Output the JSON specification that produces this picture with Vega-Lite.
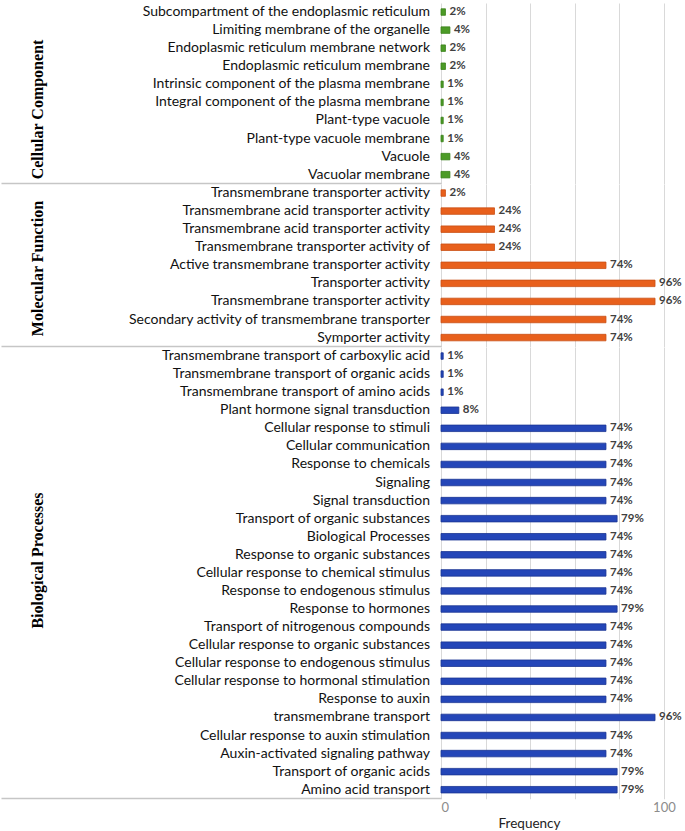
{
  "$schema": "https://vega.github.io/schema/vega-lite/v6.json",
  "padding": {"left": 0, "top": 3, "right": 0, "bottom": 0},
  "spacing": 0,
  "bounds": "flush",
  "data": {"values": [
    {"g": "CC", "term": "Subcompartment of the endoplasmic reticulum", "v": 2},
    {"g": "CC", "term": "Limiting membrane of the organelle", "v": 4},
    {"g": "CC", "term": "Endoplasmic reticulum membrane network", "v": 2},
    {"g": "CC", "term": "Endoplasmic reticulum membrane", "v": 2},
    {"g": "CC", "term": "Intrinsic component of the plasma membrane", "v": 1},
    {"g": "CC", "term": "Integral component of the plasma membrane", "v": 1},
    {"g": "CC", "term": "Plant-type vacuole", "v": 1},
    {"g": "CC", "term": "Plant-type vacuole membrane", "v": 1},
    {"g": "CC", "term": "Vacuole", "v": 4},
    {"g": "CC", "term": "Vacuolar membrane", "v": 4},
    {"g": "MF", "term": "Transmembrane transporter activity", "v": 2},
    {"g": "MF", "term": "Transmembrane acid transporter activity", "v": 24},
    {"g": "MF", "term": "Transmembrane acid transporter activity ", "v": 24},
    {"g": "MF", "term": "Transmembrane transporter activity of", "v": 24},
    {"g": "MF", "term": "Active transmembrane transporter activity", "v": 74},
    {"g": "MF", "term": "Transporter activity", "v": 96},
    {"g": "MF", "term": "Transmembrane transporter activity ", "v": 96},
    {"g": "MF", "term": "Secondary activity of transmembrane transporter", "v": 74},
    {"g": "MF", "term": "Symporter activity", "v": 74},
    {"g": "BP", "term": "Transmembrane transport of carboxylic acid", "v": 1},
    {"g": "BP", "term": "Transmembrane transport of organic acids", "v": 1},
    {"g": "BP", "term": "Transmembrane transport of amino acids", "v": 1},
    {"g": "BP", "term": "Plant hormone signal transduction", "v": 8},
    {"g": "BP", "term": "Cellular response to stimuli", "v": 74},
    {"g": "BP", "term": "Cellular communication", "v": 74},
    {"g": "BP", "term": "Response to chemicals", "v": 74},
    {"g": "BP", "term": "Signaling", "v": 74},
    {"g": "BP", "term": "Signal transduction", "v": 74},
    {"g": "BP", "term": "Transport of organic substances", "v": 79},
    {"g": "BP", "term": "Biological Processes", "v": 74},
    {"g": "BP", "term": "Response to organic substances", "v": 74},
    {"g": "BP", "term": "Cellular response to chemical stimulus", "v": 74},
    {"g": "BP", "term": "Response to endogenous stimulus", "v": 74},
    {"g": "BP", "term": "Response to hormones", "v": 79},
    {"g": "BP", "term": "Transport of nitrogenous compounds", "v": 74},
    {"g": "BP", "term": "Cellular response to organic substances", "v": 74},
    {"g": "BP", "term": "Cellular response to endogenous stimulus", "v": 74},
    {"g": "BP", "term": "Cellular response to hormonal stimulation", "v": 74},
    {"g": "BP", "term": "Response to auxin", "v": 74},
    {"g": "BP", "term": "transmembrane transport", "v": 96},
    {"g": "BP", "term": "Cellular response to auxin stimulation", "v": 74},
    {"g": "BP", "term": "Auxin-activated signaling pathway", "v": 74},
    {"g": "BP", "term": "Transport of organic acids", "v": 79},
    {"g": "BP", "term": "Amino acid transport", "v": 79}
  ]},
  "resolve": {"scale": {"y": "independent"}},
  "config": {
    "view": {"stroke": null},
    "font": "Lato",
    "axisY": {
      "domain": false,
      "grid": false,
      "tickSize": 440,
      "tickWidth": 1.5,
      "labelPadding": -428.5,
      "labelLimit": 0,
      "labelFont": "Lato",
      "labelFontSize": 14,
      "labelColor": "#111111",
      "titleFont": "Liberation Serif",
      "titleFontWeight": "bold",
      "titleFontSize": 16,
      "titleColor": "#000000",
      "titleAngle": 270,
      "titleX": -404,
      "titleBaseline": "middle",
      "titleAlign": "center"
    },
    "axisX": {
      "grid": true,
      "gridColor": "#d9d9d9",
      "gridWidth": 1,
      "domain": false,
      "ticks": false
    }
  },
  "vconcat": [
    {
      "width": 243,
      "height": 180.7,
      "transform": [{"filter": "datum.g == 'CC'"}],
      "encoding": {
        "y": {"field": "term", "type": "nominal", "sort": null,
              "scale": {"paddingInner": 0, "paddingOuter": 0},
              "axis": {"title": "Cellular Component", "titleY": 106, "bandPosition": 1,
                       "tickColor": {"condition": {"test": "datum.value == 'Vacuolar membrane'", "value": "#c6c6c6"}, "value": "transparent"}}},
        "x": {"field": "v", "type": "quantitative", "scale": {"domain": [0, 109], "nice": false},
              "axis": {"values": [0, 20, 40, 60, 80, 100], "labels": false, "title": null}}
      },
      "layer": [
        {"mark": {"type": "bar", "height": 6.5, "fill": "#4c9b27", "stroke": "#3a821b", "strokeWidth": 0.8}},
        {"mark": {"type": "text", "align": "left", "baseline": "middle", "dx": 4, "font": "Lato", "fontWeight": "bold", "fontSize": 11.5, "fill": "#404040", "text": {"expr": "datum.v + '%'"}}}
      ]
    },
    {
      "width": 243,
      "height": 162.6,
      "transform": [{"filter": "datum.g == 'MF'"}],
      "encoding": {
        "y": {"field": "term", "type": "nominal", "sort": null,
              "scale": {"paddingInner": 0, "paddingOuter": 0},
              "axis": {"title": "Molecular Function", "titleY": 84, "bandPosition": 1,
                       "tickColor": {"condition": {"test": "datum.value == 'Symporter activity'", "value": "#c6c6c6"}, "value": "transparent"}}},
        "x": {"field": "v", "type": "quantitative", "scale": {"domain": [0, 109], "nice": false},
              "axis": {"values": [0, 20, 40, 60, 80, 100], "labels": false, "title": null}}
      },
      "layer": [
        {"mark": {"type": "bar", "height": 6.5, "fill": "#e8601c", "stroke": "#c94f14", "strokeWidth": 0.8}},
        {"mark": {"type": "text", "align": "left", "baseline": "middle", "dx": 4, "font": "Lato", "fontWeight": "bold", "fontSize": 11.5, "fill": "#404040", "text": {"expr": "datum.v + '%'"}}}
      ]
    },
    {
      "width": 243,
      "height": 451.75,
      "transform": [{"filter": "datum.g == 'BP'"}],
      "encoding": {
        "y": {"field": "term", "type": "nominal", "sort": null,
              "scale": {"paddingInner": 0, "paddingOuter": 0},
              "axis": {"title": "Biological Processes", "titleY": 213, "bandPosition": 1,
                       "tickColor": {"condition": {"test": "datum.value == 'Amino acid transport'", "value": "#c6c6c6"}, "value": "transparent"}}},
        "x": {"field": "v", "type": "quantitative", "scale": {"domain": [0, 109], "nice": false},
              "axis": {"values": [0, 20, 40, 60, 80, 100], "labels": true,
                       "labelExpr": "datum.value == 0 || datum.value == 100 ? datum.label : ''",
                       "labelColor": "#8c8c8c", "labelFontSize": 13, "labelPadding": 3, "labelFont": "Lato",
                       "title": "Frequency", "titleFont": "Lato", "titleFontSize": 13.5, "titleFontWeight": "normal",
                       "titleColor": "#222222", "titleX": 88, "titlePadding": 2}}
      },
      "layer": [
        {"mark": {"type": "bar", "height": 6.5, "fill": "#2446b8", "stroke": "#1a3593", "strokeWidth": 0.8}},
        {"mark": {"type": "text", "align": "left", "baseline": "middle", "dx": 4, "font": "Lato", "fontWeight": "bold", "fontSize": 11.5, "fill": "#404040", "text": {"expr": "datum.v + '%'"}}}
      ]
    }
  ]
}
